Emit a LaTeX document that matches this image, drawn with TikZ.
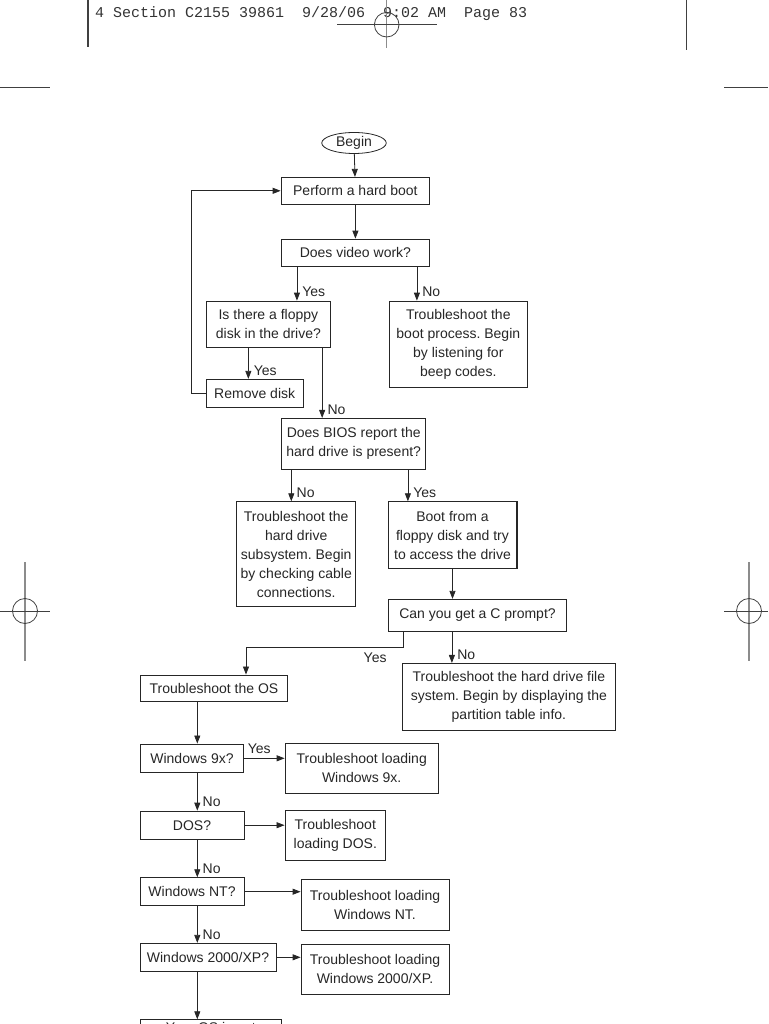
\documentclass[tikz,border=0pt]{standalone}
\usepackage{fontspec}
\usepackage{tikz}
\usetikzlibrary{arrows.meta,shapes.geometric}
\newfontfamily\chartfont{Liberation Sans}
\newfontfamily\headfont{Liberation Mono}
\frenchspacing

\begin{document}
\begin{tikzpicture}[x=1pt,y=1pt,
    lbl/.style={inner sep=0pt,text=black!85,font=\chartfont\fontsize{14}{19}\selectfont},
    box/.style={lbl,draw=black!85,line width=0.8pt,align=center},
    yn/.style={lbl,anchor=west,xshift=5pt,yshift=8.5pt},
    arr/.style={draw=black!85,line width=0.8pt,-{Triangle[length=8pt,width=6pt]}},
    cropgray/.style={draw=black!45,line width=1.2pt},
    cropdark/.style={draw=black!75,line width=0.8pt}]
    \useasboundingbox (0,0) rectangle (768,-1024);
    \clip (0,0) rectangle (768,-1024);
    \draw[cropdark,line width=1.3pt] (88,0) -- (88,-47);
    \draw[cropdark,line width=1.3pt] (686.7,0) -- (686.7,-50);
    \draw[cropdark] (0,-87.7) -- (50,-87.7);
    \draw[cropdark] (724,-87.7) -- (768,-87.7);
    \node[anchor=base west,inner sep=0pt,text=black!80,font=\headfont\fontsize{15}{18}\selectfont] (header) at (95,-17.5) {4 Section C2155 39861~~9/28/06~~9:02 AM~~Page 83};
    \draw[cropgray] (386.7,0) -- (386.7,-48);
    \draw[cropdark] (337,-24.7) -- (437,-24.7);
    \draw[cropdark] (386.7,-24.7) circle (12.3);
    \draw[cropgray] (25,-562) -- (25,-661);
    \draw[cropdark] (0,-611) -- (50,-611);
    \draw[cropdark] (25,-611) circle (12.5);
    \draw[cropgray] (749,-562) -- (749,-661);
    \draw[cropdark] (724,-611) -- (768,-611);
    \draw[cropdark] (749,-611) circle (12.5);
    \coordinate (col) at (197.3,0);
    \node[box,ellipse,minimum width=64.5pt,minimum height=21pt] (begin) at (354,-143) {Begin};
    \node[box,minimum width=148.7pt,minimum height=27pt] (hardboot) at (355.4,-190.8) {Perform a hard boot};
    \node[box,minimum width=148.7pt,minimum height=27.7pt] (video) at (355.4,-252.9) {Does video work?};
    \node[box,minimum width=124.7pt,minimum height=46.7pt] (floppy) at (268.4,-324.4) {Is there a floppy\\disk in the drive?};
    \node[box,minimum width=138pt,minimum height=86.3pt] (bootproc) at (458.3,-344.2) {Troubleshoot the\\boot process. Begin\\by listening for\\beep codes.};
    \node[box,minimum width=97.3pt,minimum height=28pt] (remove) at (254.7,-393.3) {Remove disk};
    \node[box,minimum width=144pt,minimum height=50.7pt] (bios) at (353.7,-443.7) {Does BIOS report the\\hard drive is present?};
    \node[box,minimum width=119pt,minimum height=105pt] (subsys) at (296.2,-554.2) {Troubleshoot the\\hard drive\\subsystem. Begin\\by checking cable\\connections.};
    \node[box,minimum width=128.4pt,minimum height=66.6pt] (bootfloppy) at (452.5,-535) {Boot from a\\floppy disk and try\\to access the drive};
    \draw[line width=1.6pt,black!85] ([xshift=0.4pt]bootfloppy.north east) -- ([xshift=0.4pt]bootfloppy.south east);
    \node[box,minimum width=178.4pt,minimum height=32.4pt] (cprompt) at (477.5,-615.5) {Can you get a C prompt?};
    \node[box,minimum width=212.3pt,minimum height=66.7pt] (filesys) at (508.9,-696.7) {Troubleshoot the hard drive file\\system. Begin by displaying the\\partition table info.};
    \node[box,minimum width=146.6pt,minimum height=26.7pt] (os) at (214,-688.3) {Troubleshoot the OS};
    \node[box,minimum width=102.6pt,minimum height=28.7pt] (win9x) at (192,-758.3) {Windows 9x?};
    \node[box,minimum width=153.3pt,minimum height=50pt] (load9x) at (361.7,-768.3) {Troubleshoot loading\\Windows 9x.};
    \node[box,minimum width=104pt,minimum height=28.3pt] (dos) at (192,-825.2) {DOS?};
    \node[box,minimum width=100.7pt,minimum height=49.3pt] (loaddos) at (335.3,-835.3) {Troubleshoot\\loading DOS.};
    \node[box,minimum width=104pt,minimum height=28pt] (winnt) at (192,-891.7) {Windows NT?};
    \node[box,minimum width=148pt,minimum height=50.7pt] (loadnt) at (375,-904.7) {Troubleshoot loading\\Windows NT.};
    \node[box,minimum width=136pt,minimum height=28pt] (winxp) at (208,-957.3) {Windows 2000/XP?};
    \node[box,minimum width=148pt,minimum height=50pt] (loadxp) at (375,-969) {Troubleshoot loading\\Windows 2000/XP.};
    \node[box,anchor=north,inner ysep=2.5pt,minimum width=140.3pt] (unsupported) at (210.8,-1019.3) {Your OS is not};
    \draw[arr] (begin) -- (hardboot);
    \draw[arr] (hardboot) -- (video);
    \draw[arr] ([xshift=16.3pt]video.south west) -- ([xshift=16.3pt]video.south west |- floppy.north) node[yn] {Yes};
    \draw[arr] ([xshift=28pt]bootproc.north west |- video.south) -- ([xshift=28pt]bootproc.north west) node[yn] {No};
    \draw[arr] ([xshift=42.7pt]remove.north west |- floppy.south) -- ([xshift=42.7pt]remove.north west) node[yn] {Yes};
    \draw[arr] ([xshift=-9pt]floppy.south east) -- ([xshift=-9pt]floppy.south east |- bios.north) node[yn] {No};
    \draw[arr] (remove.west) -- ++(-14.3,0) |- (hardboot.west);
    \draw[arr] ([xshift=10pt]bios.south west) -- ([xshift=10pt]bios.south west |- subsys.north) node[yn] {No};
    \draw[arr] ([xshift=20pt]bootfloppy.north west |- bios.south) -- ([xshift=20pt]bootfloppy.north west) node[yn] {Yes};
    \draw[arr] (bootfloppy.south) -- (bootfloppy.south |- cprompt.north);
    \draw[arr] ([xshift=15pt]cprompt.south west) -- ++(0,-15.6) -| ([xshift=32pt]os.north);
    \node[lbl] (yesos) at ([xshift=-12.8pt,yshift=-25.8pt]cprompt.south west) {Yes};
    \draw[arr] ([xshift=64pt]cprompt.south west) -- ([xshift=64pt]cprompt.south west |- filesys.north) node[yn] {No};
    \draw[arr] (os.south -| col) -- (win9x.north -| col);
    \draw[arr] (win9x.east) -- (win9x.east -| load9x.west) node[lbl,pos=0.38,above=4pt] {Yes};
    \draw[arr] (win9x.south -| col) -- (dos.north -| col) node[yn] {No};
    \draw[arr] (dos.east) -- (dos.east -| loaddos.west);
    \draw[arr] (dos.south -| col) -- (winnt.north -| col) node[yn] {No};
    \draw[arr] (winnt.east) -- (winnt.east -| loadnt.west);
    \draw[arr] (winnt.south -| col) -- (winxp.north -| col) node[yn] {No};
    \draw[arr] (winxp.east) -- (winxp.east -| loadxp.west);
    \draw[arr] (winxp.south -| col) -- (unsupported.north -| col);
\end{tikzpicture}
\end{document}
